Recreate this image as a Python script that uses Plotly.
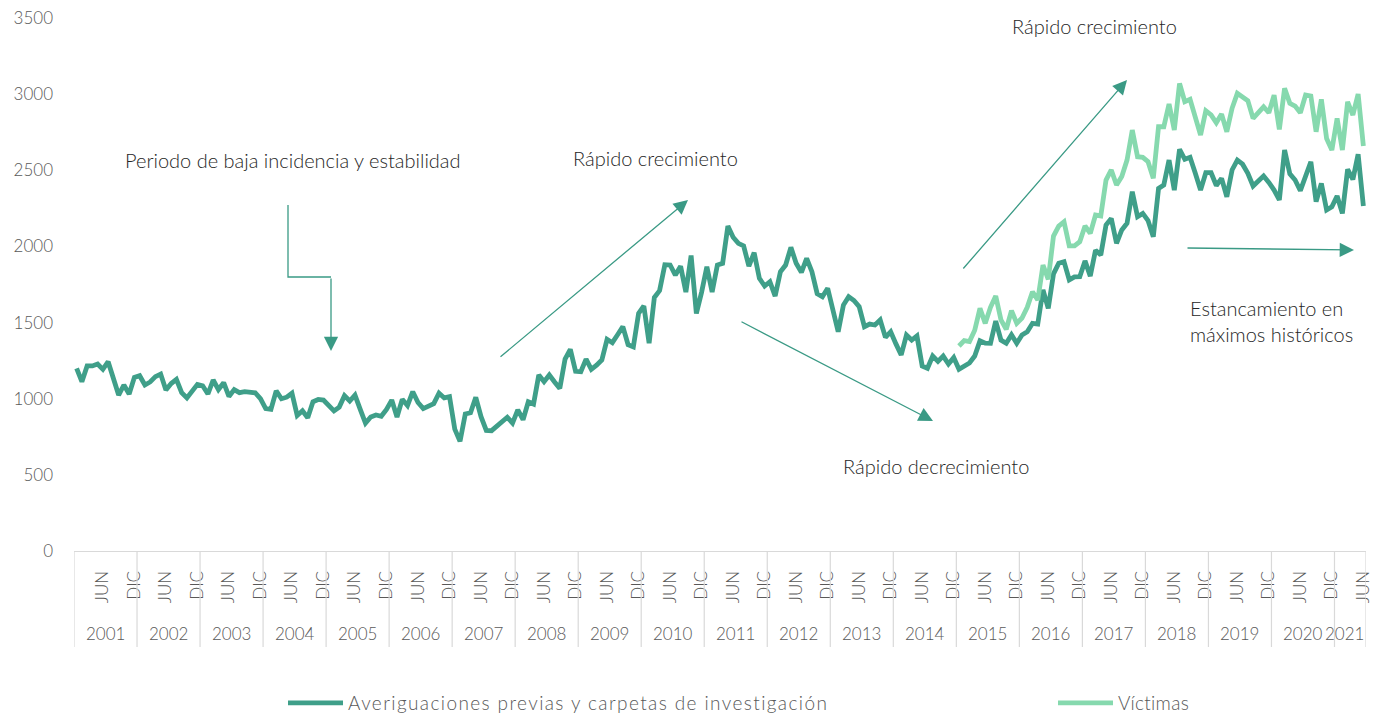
import plotly.graph_objects as go
import numpy as np

# ---------------- data ----------------
years = [str(y) for y in range(2001, 2022)]
month_tick_names = {5: "JUN", 11: "DIC"}

averiguaciones = [
    1200, 1112, 1215, 1215, 1228, 1193, 1243, 1130, 1024, 1090, 1031, 1140,  # 2001
    1151, 1090, 1110, 1145, 1162, 1057, 1100, 1127, 1040, 1005, 1050, 1094,  # 2002
    1085, 1031, 1123, 1060, 1105, 1015, 1060, 1040, 1046, 1042, 1039, 1000,  # 2003
    935, 930, 1052, 1000, 1010, 1036, 890, 921, 875, 980, 995, 991,          # 2004
    960, 920, 945, 1020, 985, 1024, 930, 840, 880, 893, 885, 930,            # 2005
    991, 880, 996, 955, 1046, 975, 935, 950, 968, 1036, 1005, 1013,          # 2006
    800, 720, 900, 908, 1009, 882, 792, 790, 820, 855, 878, 840,             # 2007
    926, 862, 980, 965, 1156, 1112, 1156, 1110, 1068, 1260, 1324, 1180,      # 2008
    1177, 1260, 1193, 1220, 1254, 1390, 1368, 1420, 1473, 1355, 1341, 1560,  # 2009
    1609, 1364, 1665, 1710, 1880, 1878, 1812, 1870, 1700, 1940, 1560, 1700,  # 2010
    1867, 1700, 1878, 1889, 2134, 2060, 2020, 2003, 1870, 1959, 1790, 1740,  # 2011
    1768, 1674, 1834, 1878, 1994, 1890, 1830, 1922, 1834, 1690, 1670, 1725,  # 2012
    1580, 1440, 1615, 1670, 1645, 1605, 1473, 1490, 1484, 1517, 1403, 1440,  # 2013
    1360, 1287, 1418, 1385, 1412, 1215, 1200, 1280, 1245, 1280, 1228, 1270,  # 2014
    1193, 1210, 1235, 1280, 1380, 1365, 1364, 1510, 1385, 1364, 1420, 1364,  # 2015
    1418, 1440, 1495, 1490, 1714, 1593, 1820, 1890, 1900, 1780, 1800, 1801,  # 2016
    1905, 1805, 1975, 1944, 2140, 2184, 2020, 2108, 2152, 2359, 2195, 2217,  # 2017
    2170, 2064, 2381, 2403, 2567, 2370, 2637, 2572, 2585, 2480, 2370, 2484,  # 2018
    2484, 2400, 2447, 2326, 2502, 2567, 2540, 2480, 2397, 2430, 2462, 2420,  # 2019
    2370, 2305, 2633, 2476, 2436, 2366, 2460, 2556, 2294, 2414, 2239, 2260,  # 2020
    2331, 2217, 2506, 2440, 2605, 2265,                                      # 2021
]

victimas = [
    1346, 1381, 1375, 1450, 1593, 1495, 1600, 1674, 1517, 1456, 1578, 1495,  # 2015
    1530, 1600, 1703, 1648, 1878, 1784, 2068, 2134, 2162, 2003, 2003, 2031,  # 2016
    2134, 2086, 2206, 2200, 2436, 2502, 2403, 2460, 2567, 2764, 2589, 2585,  # 2017
    2556, 2447, 2786, 2786, 2935, 2764, 3070, 2950, 2966, 2841, 2731, 2891,  # 2018
    2863, 2812, 2869, 2753, 2907, 3005, 2979, 2957, 2841, 2880, 2917, 2878,  # 2019
    2994, 2769, 3038, 2940, 2922, 2878, 2994, 2988, 2753, 2966, 2709, 2633,  # 2020
    2841, 2633, 2950, 2863, 3001, 2659,                                      # 2021
]
victimas_start_year = "2015"

# ---------------- layout helpers ----------------
W, H = 1373, 716
ML, MR, MT, MB = 74, 7, 18, 165
PW, PH = W - ML - MR, H - MT - MB


def px(x):
    return (x - ML) / PW


def py(y):
    return (H - MB - y) / PH


DARK = "#3f9f89"
LIGHT = "#86d9ae"
ARROW = "#3a9a85"
AXIS_TXT = "#595959"
TXT = "#262626"
GRID = "#d9d9d9"
FONT = "Lato"

n = len(averiguaciones)
x_all = np.arange(n)
v_start = years.index(victimas_start_year) * 12
x_vic = np.arange(v_start, v_start + len(victimas))

fig = go.Figure()
fig.add_trace(go.Scatter(
    x=x_all, y=averiguaciones, mode="lines",
    name='<span style="letter-spacing:1.4px">Averiguaciones previas y carpetas de investigación</span>',
    line=dict(color=DARK, width=4.8), legend="legend", showlegend=True,
))
fig.add_trace(go.Scatter(
    x=x_vic, y=victimas, mode="lines",
    name='<span style="letter-spacing:0.3px">Víctimas</span>',
    line=dict(color=LIGHT, width=4.8), legend="legend2", showlegend=True,
))

tickvals = [i for i in range(n) if i % 12 in month_tick_names]
ticktext = [month_tick_names[i % 12] for i in tickvals]

shapes = []
# year dividers below axis
for k in range(len(years) + 1):
    xv = min(12 * k, n) - 0.5
    shapes.append(dict(type="line", xref="x", yref="paper", x0=xv, x1=xv,
                       y0=0, y1=py(647), line=dict(color=GRID, width=1.2)))
# elbow connector
shapes.append(dict(type="path", xref="paper", yref="paper",
                   path=f"M {px(288)},{py(205)} L {px(288)},{py(277)} L {px(331)},{py(277)}",
                   line=dict(color=ARROW, width=1.3)))

annotations = []
for k, yr in enumerate(years):
    start = 12 * k
    end = min(12 * (k + 1), n)
    xc = (start + end - 1) / 2
    if end - start < 12:
        xc -= 1
    annotations.append(dict(xref="x", yref="paper", x=xc, y=py(633),
                            xanchor="center", yanchor="middle",
                            text=yr, showarrow=False,
                            font=dict(family=FONT, size=17, color=AXIS_TXT, weight=300)))

text_font = dict(family=FONT, size=20, color=TXT, weight=300)
annotations += [
    dict(xref="paper", yref="paper", x=px(293), y=py(160), text="Periodo de baja incidencia y estabilidad",
         xanchor="center", yanchor="middle", showarrow=False, font=text_font),
    dict(xref="paper", yref="paper", x=px(655), y=py(158), text="Rápido crecimiento",
         xanchor="center", yanchor="middle", showarrow=False, font=text_font),
    dict(xref="paper", yref="paper", x=px(936), y=py(466), text="Rápido decrecimiento",
         xanchor="center", yanchor="middle", showarrow=False, font=text_font),
    dict(xref="paper", yref="paper", x=px(1094), y=py(26), text="Rápido crecimiento",
         xanchor="center", yanchor="middle", showarrow=False, font=text_font),
    dict(xref="paper", yref="paper", x=px(1188), y=py(321), xanchor="left", yanchor="middle",
         text="Estancamiento en<br>máximos históricos", align="left",
         showarrow=False, font=text_font),
]


def arrow(tail, tip):
    return dict(xref="paper", yref="paper", x=px(tip[0]), y=py(tip[1]),
                ax=tail[0] - tip[0], ay=tail[1] - tip[1], axref="pixel", ayref="pixel",
                text="", showarrow=True, arrowhead=2, arrowsize=2.2, arrowwidth=1.3,
                arrowcolor=ARROW, standoff=0, startstandoff=0)


annotations += [
    arrow((331, 277), (331, 351)),
    arrow((499, 358), (688, 200)),
    arrow((740, 321), (933, 421)),
    arrow((962, 270), (1127, 80)),
    arrow((1186, 248), (1354, 250)),
]

fig.update_layout(
    width=W, height=H,
    margin=dict(l=ML, r=MR, t=MT, b=MB, autoexpand=False),
    plot_bgcolor="white", paper_bgcolor="white",
    font=dict(family=FONT, color=AXIS_TXT),
    showlegend=True,
    xaxis=dict(range=[-0.5, n - 0.5], tickvals=tickvals, ticktext=ticktext,
               tickangle=-90, showgrid=False, zeroline=False, automargin=False,
               showline=True, linecolor=GRID, linewidth=1.2,
               ticks="", ticklabelstandoff=12,
               tickfont=dict(family=FONT, size=17, color=AXIS_TXT, weight=300)),
    yaxis=dict(range=[0, 3500], tickvals=list(range(0, 3501, 500)),
               showgrid=False, zeroline=False, showline=False, ticks="", automargin=False,
               ticklabelstandoff=20,
               tickfont=dict(family=FONT, size=17, color=AXIS_TXT, weight=300)),
    legend=dict(orientation="h", x=px(283), y=py(703), xanchor="left", yanchor="middle",
                font=dict(family=FONT, size=19, color=AXIS_TXT, weight=300),
                itemwidth=55, bgcolor="rgba(0,0,0,0)", visible=True),
    legend2=dict(orientation="h", x=px(1053), y=py(703), xanchor="left", yanchor="middle",
                 font=dict(family=FONT, size=19, color=AXIS_TXT, weight=300),
                 itemwidth=55, bgcolor="rgba(0,0,0,0)", visible=True),
    shapes=shapes,
    annotations=annotations,
)

fig.write_html(
    "out.html",
    config={"displayModeBar": False},
    post_script="document.body.style.margin='0';document.body.style.overflow='hidden';",
)
